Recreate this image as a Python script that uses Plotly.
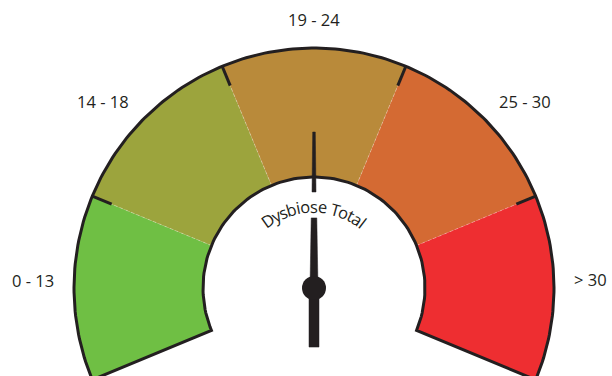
import numpy as np
import plotly.graph_objects as go

# Gauge bands (score ranges) and the current reading
band_labels = ["0 - 13", "14 - 18", "19 - 24", "25 - 30", "> 30"]
band_lower = [0, 14, 19, 25, 31]
band_upper = [14, 19, 25, 31, 37]
band_colors = ["#6FBF44", "#9CA43D", "#B98A3A", "#D46A33", "#EE2E31"]
gauge_value = 22
gauge_title = "Dysbiose Total"

# Geometry (radius 1 = outer edge of the dial)
START, SPAN = 202.5, 225.0          # sweep clockwise from START
R_OUT, R_IN = 1.0, 0.4625
PX = 240.0                          # pixels per radius unit
W, H = 612, 376
CX, CY = 314, 288                   # dial centre in pixels
INK = "#231F20"
FONT = "Open Sans"

# label placement (angle in degrees, radius)
LABEL_POS = [(178.4, 1.171), (138.5, 1.175), (90.0, 1.117), (41.5, 1.175), (1.7, 1.151)]

n = len(band_labels)
step = SPAN / n


def band_angle(i, frac=0.0):
    return START - step * (i + frac)


def value_to_angle(v):
    for i, (lo, hi) in enumerate(zip(band_lower, band_upper)):
        if lo <= v < hi:
            return band_angle(i, (v - lo) / (hi - lo))
    return band_angle(n) if v >= band_upper[-1] else band_angle(0)


def arc(r, a0, a1, k=80):
    t = np.radians(np.linspace(a0, a1, k))
    return r * np.cos(t), r * np.sin(t)


def pol(r, a):
    t = np.radians(a)
    return r * np.cos(t), r * np.sin(t)


fig = go.Figure()

# coloured bands
for i, col in enumerate(band_colors):
    a0, a1 = band_angle(i), band_angle(i + 1)
    xo, yo = arc(R_OUT, a0, a1)
    xi, yi = arc(R_IN, a1, a0)
    fig.add_trace(go.Scatter(
        x=np.concatenate([xo, xi, xo[:1]]), y=np.concatenate([yo, yi, yo[:1]]),
        fill="toself", fillcolor=col, mode="none", hoverinfo="skip", showlegend=False))

# faint separators between bands
for i in range(1, n):
    a = band_angle(i)
    x0, y0 = pol(R_IN, a)
    x1, y1 = pol(R_OUT, a)
    fig.add_trace(go.Scatter(x=[x0, x1], y=[y0, y1], mode="lines",
                             line=dict(color="rgba(255,255,255,0.4)", width=0.8, dash="dot"),
                             hoverinfo="skip", showlegend=False))

# dial outline
xo, yo = arc(R_OUT, START, START - SPAN, 200)
xi, yi = arc(R_IN, START - SPAN, START, 120)
fig.add_trace(go.Scatter(
    x=np.concatenate([xo, xi, xo[:1]]), y=np.concatenate([yo, yi, yo[:1]]),
    mode="lines", line=dict(color=INK, width=3), hoverinfo="skip", showlegend=False))

# tick marks at band boundaries
for i in range(1, n):
    a = band_angle(i)
    x0, y0 = pol(R_OUT, a)
    x1, y1 = pol(R_OUT - 21 / PX, a)
    fig.add_trace(go.Scatter(x=[x0, x1], y=[y0, y1], mode="lines",
                             line=dict(color=INK, width=3), hoverinfo="skip", showlegend=False))


def needle_piece(a, r0, r1, hw0, hw1):
    t = np.radians(a)
    ux, uy = np.cos(t), np.sin(t)
    nx, ny = -uy, ux
    pts = [(r0, hw0), (r1, hw1), (r1, -hw1), (r0, -hw0), (r0, hw0)]
    xs = [r * ux + w / PX * nx for r, w in pts]
    ys = [r * uy + w / PX * ny for r, w in pts]
    return go.Scatter(x=xs, y=ys, fill="toself", fillcolor=INK, mode="lines",
                      line=dict(color=INK, width=0.5), hoverinfo="skip", showlegend=False)


na = value_to_angle(gauge_value)
fig.add_trace(needle_piece(na, 0.40, 0.65, 2.0, 1.3))       # tip above the title
fig.add_trace(needle_piece(na, 0.0, 0.292, 4.0, 2.8))       # body below the title
fig.add_trace(needle_piece(na, -0.246, 0.0, 5.0, 5.0))      # tail
hx, hy = pol(0, na)
fig.add_trace(go.Scatter(x=[hx], y=[hy], mode="markers",
                         marker=dict(size=24, color=INK), hoverinfo="skip", showlegend=False))

# range labels
for lab, (a, r) in zip(band_labels, LABEL_POS):
    x, y = pol(r, a)
    fig.add_annotation(x=x, y=y, text=lab, showarrow=False, xanchor="center", yanchor="middle",
                       font=dict(family=FONT, size=16.5, color=INK))

# curved title along an arc inside the dial
CHAR_W = {"D": .71, "y": .50, "s": .44, "b": .61, "i": .26, "o": .60, "e": .56,
          " ": .26, "T": .55, "t": .35, "a": .56, "l": .26}
fs = 16.5
r_txt = 0.340
widths = [CHAR_W.get(c, .55) * fs for c in gauge_title]
total = sum(widths)
pos = -total / 2
for c, w in zip(gauge_title, widths):
    s = pos + w / 2
    pos += w
    if c == " ":
        continue
    a = 90 - np.degrees(s / (r_txt * PX))
    x, y = pol(r_txt, a)
    fig.add_annotation(x=x, y=y, text=c, showarrow=False, xanchor="center", yanchor="middle",
                       textangle=90 - a, font=dict(family=FONT, size=fs, color=INK))

fig.update_xaxes(range=[-CX / PX, (W - CX) / PX], visible=False, fixedrange=True)
fig.update_yaxes(range=[-(H - CY) / PX, CY / PX], visible=False, fixedrange=True)
fig.update_layout(width=W, height=H, margin=dict(l=0, r=0, t=0, b=0),
                  paper_bgcolor="white", plot_bgcolor="white", showlegend=False)

fig.write_html("out.html")
